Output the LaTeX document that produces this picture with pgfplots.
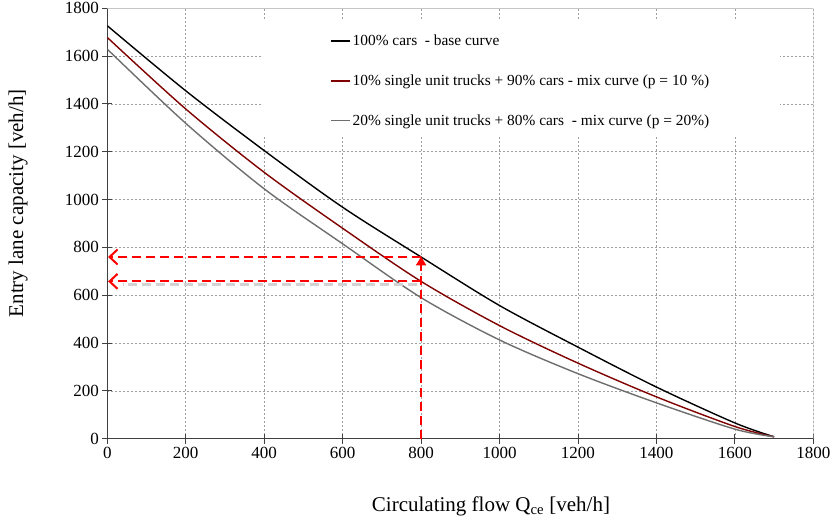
\documentclass[border=0pt]{standalone}
\usepackage{fontspec}
\setmainfont{Liberation Serif}
\usepackage{pgfplots}
\pgfplotsset{compat=1.18}
\usetikzlibrary{arrows.meta}
\definecolor{mixred}{RGB}{128,0,0}
\definecolor{mixgray}{RGB}{110,110,110}
\begin{document}
\begin{tikzpicture}[x=1pt,y=1pt]
\path[use as bounding box] (0,0) rectangle (832,520);
\begin{axis}[
  at={(107.3pt,81.3pt)}, anchor=south west,
  scale only axis, width=706pt, height=430.4pt,
  xmin=0, xmax=1800, ymin=0, ymax=1800,
  xtick={0,200,...,1800}, ytick={0,200,...,1800},
  axis lines=left, axis line style={-, draw=black!75, line width=1pt},
  tick align=center, major tick length=10pt,
  tick style={black!75, line width=0.9pt},
  grid=major,
  major grid style={gray!75, dash pattern=on 2pt off 2pt, line width=0.7pt},
  ticklabel style={font=\fontsize{17}{17}\selectfont},
  /pgf/number format/assume math mode=true,
  /pgf/number format/set thousands separator={},
  xlabel={Circulating flow Q\textsubscript{ce} [veh/h]},
  ylabel={Entry lane capacity [veh/h]},
  label style={font=\fontsize{21}{21}\selectfont},
  xlabel style={at={(axis description cs:0.5435,-0.170)}, anchor=base},
  ylabel style={at={(axis description cs:-0.1194,0.547)}, anchor=base},
  legend style={at={(axis description cs:0.3154,0.943)}, anchor=north west,
    draw=none, fill=none, font=\fontsize{15.4}{15.4}\selectfont,
    row sep=23.5pt, inner sep=0pt},
  legend cell align=left,
  legend image code/.code={\draw[#1, line width=1.5pt] (0pt,0pt) -- (19pt,0pt);},
]
\fill[white] (axis cs:394,1747) rectangle (axis cs:1715,1266);

\addplot[black, line width=1.4pt, smooth] coordinates {
(0,1727) (200,1455) (400,1205) (600,968) (800,760) (1000,557) (1200,383) (1400,216) (1600,66) (1700,8)};
\addlegendentry{100\% cars\ \ - base curve}
\addplot[mixred, line width=1.4pt, smooth] coordinates {
(0,1678) (200,1379) (400,1114) (600,880) (800,658) (1000,473) (1200,316) (1400,175) (1600,51) (1700,8)};
\addlegendentry{10\% single unit trucks + 90\% cars - mix curve (p = 10 \%)}
\addplot[mixgray, line width=1.4pt, smooth] coordinates {
(0,1629) (200,1319) (400,1045) (600,815) (800,590) (1000,413) (1200,272) (1400,150) (1600,40) (1700,8)};
\addlegendentry{20\% single unit trucks + 80\% cars\ \ - mix curve (p = 20\%)}

% shadow of lower arrow
\addplot[gray!35, line width=3pt, dash pattern=on 9pt off 5pt, forget plot] coordinates {(790,646) (40,646)};
% red dashed arrows
\addplot[red, line width=2.2pt, dash pattern=on 9pt off 5pt, forget plot,
  -{Straight Barb[length=8pt,width=15pt,line width=2pt]}] coordinates {(800,760) (2,760)};
\addplot[red, line width=2.2pt, dash pattern=on 9pt off 5pt, forget plot,
  -{Straight Barb[length=8pt,width=15pt,line width=2pt]}] coordinates {(800,658) (2,658)};
\addplot[red, line width=2.2pt, dash pattern=on 9pt off 5pt, forget plot,
  -{Triangle[length=9pt,width=10pt]}] coordinates {(800,0) (800,762)};

\draw[gray!45, line width=0.9pt] (rel axis cs:0,1) -- (rel axis cs:1,1) -- (rel axis cs:1,0);
\end{axis}
\end{tikzpicture}
\end{document}
